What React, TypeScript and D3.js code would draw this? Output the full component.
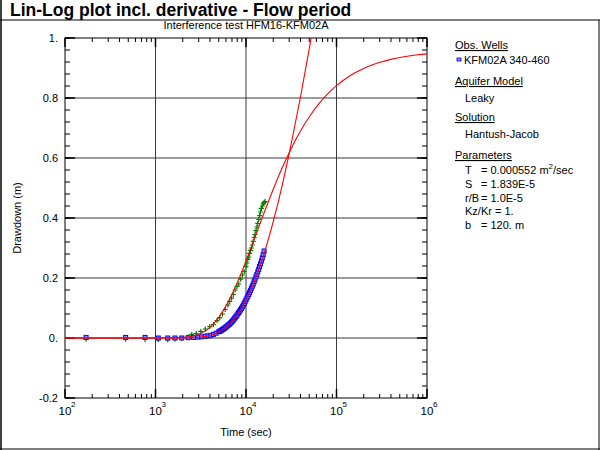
import React from "react";
import * as d3 from "d3";

// ---- data ----
const obsTime = [171, 468, 766, 1072, 1365, 1641, 1950, 2291, 2630, 2951, 3236, 3548, 3802, 4074, 4365, 4677, 5012, 5129, 5248, 5370, 5495, 5623, 5754, 5888, 6026, 6166, 6310, 6457, 6607, 6761, 6918, 7079, 7244, 7413, 7586, 7762, 7943, 8128, 8318, 8511, 8710, 8913, 9120, 9333, 9550, 9772, 10000, 10233, 10471, 10715, 10965, 11220, 11482, 11749, 12023, 12303, 12589, 12882, 13183, 13490, 13804, 14125, 14454, 14791, 15136, 15488, 15849];
const obsDrawdown = [0.002, 0.002, 0.002, 0, 0, 0, 0, 0.001, 0.002, 0.003, 0.004, 0.006, 0.007, 0.009, 0.012, 0.016, 0.021, 0.0225, 0.024, 0.026, 0.028, 0.03, 0.032, 0.0345, 0.037, 0.0395, 0.042, 0.0445, 0.047, 0.05, 0.053, 0.0565, 0.06, 0.064, 0.068, 0.072, 0.076, 0.0805, 0.085, 0.0895, 0.094, 0.099, 0.104, 0.1095, 0.115, 0.121, 0.127, 0.133, 0.139, 0.1455, 0.152, 0.159, 0.166, 0.173, 0.18, 0.188, 0.196, 0.204, 0.212, 0.2205, 0.229, 0.238, 0.247, 0.257, 0.267, 0.278, 0.29];

const derivTime = [171, 468, 766, 1072, 1365, 1641, 1950, 2291, 2512, 2818, 3162, 3548, 3981, 4365, 4786, 5129, 5495, 5888, 6310, 6607, 6918, 7244, 7586, 7943, 8318, 8710, 9120, 9550, 10000, 10233, 10471, 10715, 10965, 11220, 11482, 11749, 12023, 12303, 12589, 12882, 13183, 13490, 13804, 14125, 14454, 14791, 15136, 15488, 15849, 16218];
const derivValue = [-0.004, -0.004, -0.005, -0.006, -0.006, -0.004, -0.002, 0.003, 0.012, 0.015, 0.022, 0.03, 0.038, 0.045, 0.058, 0.068, 0.08, 0.095, 0.11, 0.122, 0.133, 0.145, 0.16, 0.172, 0.18, 0.196, 0.21, 0.222, 0.238, 0.25, 0.262, 0.27, 0.282, 0.292, 0.3, 0.31, 0.322, 0.335, 0.345, 0.358, 0.37, 0.382, 0.395, 0.408, 0.42, 0.432, 0.44, 0.447, 0.452, 0.455];

const fitTime = [100, 316, 1000, 1585, 2512, 3162, 3981, 5012, 6310, 7943, 10000, 12589, 15849, 19953, 25119, 31623, 39811, 50119, 56234];
const fitDrawdown = [0, 0, 0, 0.00003, 0.0008, 0.003, 0.0086, 0.0206, 0.0414, 0.0758, 0.1263, 0.1947, 0.2818, 0.387, 0.509, 0.648, 0.8, 0.966, 1.051];

const fitDerivTime = [100, 316, 1000, 1585, 2512, 3162, 3981, 5012, 6310, 7943, 10000, 12589, 15849, 19953, 25119, 31623, 39811, 50119, 63096, 79433, 100000, 125893, 158489, 199526, 251189, 316228, 398107, 501187, 630957, 794328, 1000000];
const fitDerivative = [0, 0, 0, 0.0002, 0.005, 0.0148, 0.0348, 0.0689, 0.1185, 0.182, 0.2564, 0.3365, 0.4174, 0.495, 0.5676, 0.632, 0.689, 0.7377, 0.7788, 0.813, 0.841, 0.864, 0.883, 0.8986, 0.911, 0.9207, 0.9287, 0.935, 0.94, 0.944, 0.947];

const yTicks = [-0.2, 0, 0.2, 0.4, 0.6, 0.8, 1];
const yTickLabels = ["-0.2", "0.", "0.2", "0.4", "0.6", "0.8", "1."];
const xDecades = [2, 3, 4, 5, 6];

const legendHeads = ["Obs. Wells", "Aquifer Model", "Solution", "Parameters"];
const legendHeadY = [45, 81, 117, 155];
const paramNames = ["T", "S", "r/B", "Kz/Kr", "b"];
const paramValues = ["= 0.000552 m", "= 1.839E-5", "= 1.0E-5", "= 1.", "= 120. m"];

const FONT = "Liberation Sans, Arial, sans-serif";

export default function App() {
  const W = 600, H = 450;
  const L = 65, R = 427, T = 38, B = 398;
  const x = d3.scaleLog().domain([1e2, 1e6]).range([L, R]);
  const y = d3.scaleLinear().domain([-0.2, 1]).range([B, T]);

  const minorX: number[] = [];
  for (let k = 2; k < 6; k++) for (let m = 2; m <= 9; m++) minorX.push(m * Math.pow(10, k));
  const minorY: number[] = [];
  for (let i = 0; i <= 30; i++) minorY.push(-0.2 + i * 0.04);

  const line = d3.line<[number, number]>().x(d => x(d[0])).y(d => y(d[1])).curve(d3.curveMonotoneX);
  const fitD = line(fitTime.map((t, i) => [t, fitDrawdown[i]]));
  const fitDer = line(fitDerivTime.map((t, i) => [t, fitDerivative[i]]));

  const grid = "#3a3a3a";

  return (
    <svg width={W} height={H} style={{ position: "absolute", left: 0, top: 0 }} fontFamily={FONT}>
      <rect x={0} y={0} width={W} height={H} fill="#fff" />
      {/* frame */}
      <line x1={1} y1={0} x2={1} y2={H} stroke="#000" strokeWidth={1.5} />
      <line x1={0} y1={20} x2={W} y2={20} stroke="#000" strokeWidth={1.2} />
      <line x1={599} y1={20} x2={599} y2={H} stroke="#000" />
      <line x1={0} y1={449} x2={W} y2={449} stroke="#000" />
      <text x={10} y={16} fontSize={17.5} fontWeight="bold">Lin-Log plot incl. derivative - Flow period</text>
      <text x={246} y={29} fontSize={11} textAnchor="middle">Interference test HFM16-KFM02A</text>

      <defs>
        <clipPath id="plotclip"><rect x={L} y={T} width={R - L} height={B - T} /></clipPath>
      </defs>

      {/* grid */}
      {yTicks.slice(1, -1).map(v => (
        <line key={"gy" + v} x1={L} x2={R} y1={y(v)} y2={y(v)} stroke={grid} strokeWidth={1} />
      ))}
      {xDecades.slice(1, -1).map(k => (
        <line key={"gx" + k} x1={x(Math.pow(10, k))} x2={x(Math.pow(10, k))} y1={T} y2={B} stroke={grid} strokeWidth={1} />
      ))}

      {/* ticks */}
      {minorX.map(v => (
        <g key={"mx" + v}>
          <line x1={x(v)} x2={x(v)} y1={B} y2={B - 4} stroke="#000" />
          <line x1={x(v)} x2={x(v)} y1={T} y2={T + 4} stroke="#000" />
        </g>
      ))}
      {xDecades.map(k => (
        <g key={"Mx" + k}>
          <line x1={x(Math.pow(10, k))} x2={x(Math.pow(10, k))} y1={B} y2={B - 9} stroke="#000" strokeWidth={1.5} />
          <line x1={x(Math.pow(10, k))} x2={x(Math.pow(10, k))} y1={T} y2={T + 9} stroke="#000" strokeWidth={1.5} />
        </g>
      ))}
      {minorY.map((v, i) => (
        <g key={"my" + i}>
          <line x1={L} x2={L + 5} y1={y(v)} y2={y(v)} stroke="#000" />
          <line x1={R} x2={R - 5} y1={y(v)} y2={y(v)} stroke="#000" />
        </g>
      ))}
      {yTicks.map(v => (
        <g key={"My" + v}>
          <line x1={L} x2={L + 10} y1={y(v)} y2={y(v)} stroke="#000" strokeWidth={1.5} />
          <line x1={R} x2={R - 10} y1={y(v)} y2={y(v)} stroke="#000" strokeWidth={1.5} />
        </g>
      ))}
      <rect x={L} y={T} width={R - L} height={B - T} fill="none" stroke="#000" strokeWidth={1} />

      {/* tick labels */}
      {yTicks.map((v, i) => (
        <text key={"yl" + v} x={58} y={y(v) + 4} fontSize={11} textAnchor="end">{yTickLabels[i]}</text>
      ))}
      {xDecades.map(k => (
        <g key={"xl" + k}>
          <text x={x(Math.pow(10, k))} y={415} fontSize={11.5} textAnchor="middle">10</text>
          <text x={x(Math.pow(10, k)) + 6} y={407} fontSize={8}>{k}</text>
        </g>
      ))}
      <text x={246} y={436} fontSize={11} textAnchor="middle">Time (sec)</text>
      <text transform={`translate(21,${(T + B) / 2}) rotate(-90)`} fontSize={11} textAnchor="middle">Drawdown (m)</text>

      {/* data */}
      <g clipPath="url(#plotclip)">
        {derivTime.map((t, i) => {
          const cx = x(t), cy = y(derivValue[i]);
          return <path key={"g" + i} d={`M${cx - 2.5},${cy}H${cx + 2.5}M${cx},${cy - 2.5}V${cy + 2.5}`} stroke="#008000" strokeWidth={1.2} fill="none" />;
        })}
        {obsTime.map((t, i) => (
          <rect key={"b" + i} x={x(t) - 2} y={y(obsDrawdown[i]) - 2} width={4} height={4} fill="#8c8cff" stroke="#0000ff" strokeWidth={1} />
        ))}
        <path d={fitD || ""} fill="none" stroke="#ff0000" strokeWidth={1.1} />
        <path d={fitDer || ""} fill="none" stroke="#ff0000" strokeWidth={1.1} />
      </g>

      {/* legend */}
      {legendHeads.map((h, i) => (
        <text key={h} x={455} y={legendHeadY[i] + 4} fontSize={11} textDecoration="underline">{h}</text>
      ))}
      <rect x={457} y={58} width={4} height={3} fill="#8c8cff" stroke="#0000ff" strokeWidth={0.8} />
      <text x={464} y={64} fontSize={11}>KFM02A 340-460</text>
      <text x={465} y={102} fontSize={11}>Leaky</text>
      <text x={465} y={138} fontSize={11}>Hantush-Jacob</text>
      {paramNames.map((n, i) => (
        <g key={n}>
          <text x={465} y={174 + i * 13.8} fontSize={11}>{n}</text>
          <text x={n === "Kz/Kr" ? 495 : 481} y={174 + i * 13.8} fontSize={11}>
            {paramValues[i]}
            {i === 0 ? <tspan dy={-5} fontSize={8}>2</tspan> : null}
            {i === 0 ? <tspan dy={5} fontSize={11}>/sec</tspan> : null}
          </text>
        </g>
      ))}
    </svg>
  );
}
